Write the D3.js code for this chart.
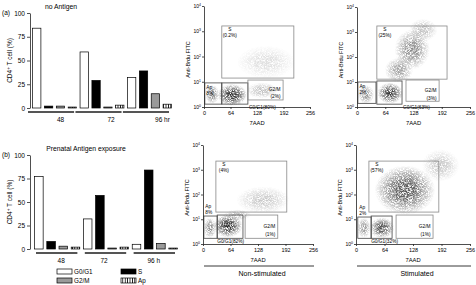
<!DOCTYPE html>
<html><head><meta charset="utf-8">
<script src="https://cdn.jsdelivr.net/npm/d3@7"></script>
<style>body{margin:0;background:#fff} svg{font-family:"Liberation Sans",Arial,sans-serif;display:block}</style>
</head><body><svg id="c" width="476" height="285"></svg>
<script>
// ---------- data ----------
const timepoints = ["48","72","96"];
const phases = ["G0/G1","S","G2/M","Ap"];
const yTicks = [0,25,50,75,100];
const noAgG0G1 = [84,59,32];
const noAgS    = [2,29,39];
const noAgG2M  = [2,1,15];
const noAgAp   = [1,3,4];
const preG0G1  = [77,32,5];
const preS     = [8,57,84];
const preG2M   = [3,1,6];
const preAp    = [2,2,1];
const groupLabelsA = ["48","72","96 hr"];
const groupLabelsB = ["48","72","96 h"];

const flowXTicks = [0,64,128,192,256];
const flowYTicks = [1,10,100,1000,10000];
const gateNames = ["S","Ap","G0/G1","G2/M"];
// gates: [7AAD from, 7AAD to, FITC from, FITC to]
const gatesA1 = [[43,217,14,1620],[2,43,1.3,9],[43,106,1.3,9],[106,191,1.9,11.7]];
const gatesA2 = [[45,204,13,1740],[2,43,1.4,10],[45,102,1.3,11],[111,186,1.7,12]];
const gatesB1 = [[30,195,19.5,2240],[2,33,1.7,13.5],[33,93,1.7,14.8],[98,174,1.7,14.8]];
const gatesB2 = [[29,186,19.5,2240],[4,34,1.7,12.3],[34,81,1.7,13.5],[90,173,1.7,14.8]];
const pctA1 = ["(0.2%)","8%","(80%)","(2%)"];
const pctA2 = ["(25%)","2%","(63%)","(3%)"];
const pctB1 = ["(4%)","8%","(82%)","(1%)"];
const pctB2 = ["(57%)","2%","(32%)","(1%)"];
// event clouds: [7AAD centre, FITC centre, 7AAD half-width, FITC half-height (decades), density]
const cloudsA1 = [[150,60,70,0.65,0.15],[140,4.5,38,0.32,0.3],[20,3.2,17,0.38,0.6],[68,3.0,36,0.44,1]];
const cloudsA2 = [[150,1200,32,0.45,0.3],[125,200,40,0.8,0.55],[95,30,32,0.5,0.45],[20,3.2,19,0.38,0.5],[75,3.6,29,0.42,0.95]];
const cloudsB1 = [[140,60,62,0.55,0.25],[80,15,32,0.22,0.3],[16,4.5,15,0.42,0.55],[58,5.4,34,0.47,1]];
const cloudsB2 = [[190,1500,42,0.65,0.25],[110,150,68,1.0,0.8],[18,4.5,15,0.42,0.5],[58,4.5,28,0.42,0.85]];

// ---------- setup ----------
const svg = d3.select("#c");
const defs = svg.append("defs");
const stripe = defs.append("pattern").attr("id","stripe").attr("patternUnits","userSpaceOnUse")
  .attr("width",2.4).attr("height",4);
stripe.append("rect").attr("width",2.4).attr("height",4).attr("fill","#fff");
stripe.append("rect").attr("width",0.8).attr("height",4).attr("fill","#000");
const grad = defs.append("radialGradient").attr("id","cloud");
grad.append("stop").attr("offset","0%").attr("stop-color","#222").attr("stop-opacity",1);
grad.append("stop").attr("offset","35%").attr("stop-color","#333").attr("stop-opacity",0.9);
grad.append("stop").attr("offset","70%").attr("stop-color","#555").attr("stop-opacity",0.5);
grad.append("stop").attr("offset","100%").attr("stop-color","#666").attr("stop-opacity",0);
const f = defs.append("filter").attr("id","speck").attr("x","-10%").attr("y","-10%").attr("width","120%").attr("height","120%");
f.append("feTurbulence").attr("type","fractalNoise").attr("baseFrequency",1.6).attr("numOctaves",2).attr("seed",7).attr("result","n");
f.append("feColorMatrix").attr("in","n").attr("type","matrix")
  .attr("values","0 0 0 0 0  0 0 0 0 0  0 0 0 0 0  3.2 0 0 0 -0.95").attr("result","m");
f.append("feComposite").attr("in","SourceGraphic").attr("in2","m").attr("operator","in");

const fills = {"G0/G1":"#fff","S":"#000","G2/M":"#9a9a9a","Ap":"url(#stripe)"};

function drawBars(c){
  const g = svg.append("g");
  const y = d3.scaleLinear([0,100],[c.bottom,c.top]);
  const x0 = d3.scaleBand(timepoints,c.range).paddingInner(0.05);
  const x1 = d3.scaleBand(phases,[0,x0.bandwidth()]).paddingInner(0.3).paddingOuter(0.05);
  const ax = g.append("g").attr("transform",`translate(${c.axisX},0)`)
    .call(d3.axisLeft(y).tickValues(yTicks).tickSize(3).tickSizeOuter(0).tickPadding(2));
  ax.selectAll("text").attr("font-size",6.5).attr("font-family","Liberation Sans, Arial");
  ax.selectAll("line,path").attr("stroke","#222").attr("stroke-width",0.8);
  phases.forEach((p,i)=>{
    g.selectAll(null).data(c.series[i]).enter().append("rect")
      .attr("x",(d,j)=>x0(timepoints[j])+x1(p)).attr("width",x1.bandwidth())
      .attr("y",d=>y(d)).attr("height",d=>y(0)-y(d))
      .attr("fill",fills[p]).attr("stroke","#000").attr("stroke-width",0.7);
  });
  g.selectAll(null).data(timepoints).enter().append("line")
    .attr("x1",d=>x0(d)+c.segOff[0]).attr("x2",d=>x0(d)+x0.bandwidth()+c.segOff[1])
    .attr("y1",c.lineY).attr("y2",c.lineY).attr("stroke","#555").attr("stroke-width",1.8);
  g.selectAll(null).data(timepoints).enter().append("text")
    .attr("x",(d,j)=>x0(d)+x0.bandwidth()/2+c.labOff[j]).attr("y",c.lineY+10)
    .attr("text-anchor","middle").attr("font-size",6.5).text((d,j)=>c.labels[j]);
  g.append("text").attr("x",c.titleX).attr("y",c.top-4).attr("text-anchor","middle")
    .attr("font-size",6.8).text(c.title);
  g.append("text").attr("x",2).attr("y",c.top+2).attr("font-size",6.5).text(c.letter);
  const yl = g.append("text").attr("transform",`translate(${c.axisX-18},${(c.top+c.bottom)/2}) rotate(-90)`)
    .attr("text-anchor","middle").attr("font-size",6.5);
  yl.append("tspan").text("CD4");
  yl.append("tspan").attr("dy",-2.5).attr("font-size",4.5).text("+");
  yl.append("tspan").attr("dy",2.5).text(" T cell (%)");
}

drawBars({top:13,bottom:108,axisX:30,range:[32,172],lineY:112,segOff:[-4,-3],labOff:[6,9,13],
  labels:groupLabelsA,title:"no Antigen",titleX:61,letter:"(a)",
  series:[noAgG0G1,noAgS,noAgG2M,noAgAp]});
drawBars({top:155,bottom:249,axisX:30,range:[34,178],lineY:253,segOff:[2,-3],labOff:[4,-2,-1],
  labels:groupLabelsB,title:"Prenatal Antigen exposure",titleX:86,letter:"(b)",
  series:[preG0G1,preS,preG2M,preAp]});

// legend
const leg = svg.append("g");
const legPos = {"G0/G1":[57,269],"G2/M":[57,278],"S":[121,269],"Ap":[121,278]};
phases.forEach(p=>{
  const [lx,ly]=legPos[p];
  leg.append("rect").attr("x",lx).attr("y",ly).attr("width",15).attr("height",5)
    .attr("fill",fills[p]).attr("stroke","#000").attr("stroke-width",0.7);
  leg.append("text").attr("x",lx+17).attr("y",ly+5).attr("font-size",6.3).text(p);
});

function drawFlow(c){
  const g = svg.append("g");
  const x = d3.scaleLinear([0,256],[c.x0,c.x1]);
  const y = d3.scaleLog([1,10000],[c.yb,c.yt]);
  const dec = (c.yb-c.yt)/4;
  const cl = g.append("g").attr("filter","url(#speck)");
  cl.selectAll("ellipse").data(c.clouds).enter().append("ellipse")
    .attr("cx",d=>x(d[0])).attr("cy",d=>y(d[1]))
    .attr("rx",d=>x(d[2])-x(0)).attr("ry",d=>d[3]*dec)
    .attr("fill","url(#cloud)").attr("opacity",d=>d[4]);
  g.selectAll("rect").data(c.gates).enter().append("rect")
    .attr("x",d=>x(d[0])).attr("width",d=>x(d[1])-x(d[0]))
    .attr("y",d=>y(d[3])).attr("height",d=>y(d[2])-y(d[3]))
    .attr("fill","none").attr("stroke",(d,i)=>i===1||i===2?"#444":"#888").attr("stroke-width",0.8);
  const fs = 4.8;
  const [gS,gAp,gG1,gG2] = c.gates;
  g.append("text").attr("x",x(gS[0])+8).attr("y",y(gS[3])+5).attr("text-anchor","middle").attr("font-size",fs).text(gateNames[0]);
  g.append("text").attr("x",x(gS[0])+8).attr("y",y(gS[3])+11).attr("text-anchor","middle").attr("font-size",fs).text(c.pct[0]);
  const apY = c.apInside ? y(gAp[3])+6 : y(gAp[3])-8;
  g.append("text").attr("x",x(gAp[0])+1.5).attr("y",apY).attr("font-size",fs).text(gateNames[1]);
  g.append("text").attr("x",x(gAp[0])+1.5).attr("y",apY+6).attr("font-size",fs).text(c.pct[1]);
  const gx = c.g1Right ? x(gG1[1])+1 : x(gG1[0]);
  g.append("text").attr("x",gx).attr("y",y(gG1[2])+4.5).attr("font-size",fs).text(gateNames[2]+c.pct[2]);
  const h2 = y(gG2[2])-y(gG2[3]);
  g.append("text").attr("x",x(gG2[1])-2.5).attr("y",y(gG2[3])+h2*0.56).attr("text-anchor","end").attr("font-size",fs).text(gateNames[3]);
  g.append("text").attr("x",x(gG2[1])-2.5).attr("y",y(gG2[3])+h2*0.92).attr("text-anchor","end").attr("font-size",fs).text(c.pct[3]);
  const xa = g.append("g").attr("transform",`translate(0,${c.yb})`)
    .call(d3.axisBottom(x).tickValues(flowXTicks).tickSize(2).tickSizeOuter(0).tickPadding(2));
  xa.selectAll("text").attr("font-size",5.5).attr("font-family","Liberation Sans, Arial");
  const ya = g.append("g").attr("transform",`translate(${c.x0},0)`)
    .call(d3.axisLeft(y).tickValues(flowYTicks).tickSize(2).tickSizeOuter(0).tickFormat(""));
  [xa,ya].forEach(a=>a.selectAll("line,path").attr("stroke","#222").attr("stroke-width",0.8));
  ya.selectAll(".tick").each(function(d){
    const t = d3.select(this).append("text").attr("x",-3).attr("dy","0.3em").attr("text-anchor","end")
      .attr("fill","#000").attr("font-size",5).attr("font-family","Liberation Sans, Arial");
    t.append("tspan").text("10");
    t.append("tspan").attr("dy",-2).attr("font-size",3.5).text(Math.round(Math.log10(d)));
  });
  g.append("text").attr("x",(c.x0+c.x1)/2).attr("y",c.yb+18).attr("text-anchor","middle").attr("font-size",5.8).text("7AAD");
  g.append("text").attr("transform",`translate(${c.x0-14},${(c.yb+c.yt)/2+3}) rotate(-90)`)
    .attr("text-anchor","middle").attr("font-size",5.5).text("Anti-Brdu FITC");
  if(c.caption){
    g.append("line").attr("x1",c.x0+1).attr("x2",c.x1+1).attr("y1",c.yb+22).attr("y2",c.yb+22).attr("stroke","#222").attr("stroke-width",0.9);
    g.append("text").attr("x",(c.x0+c.x1)/2+4).attr("y",c.yb+32).attr("text-anchor","middle").attr("font-size",7).text(c.caption);
  }
}

drawFlow({x0:204,x1:310,yb:107,yt:6,gates:gatesA1,pct:pctA1,clouds:cloudsA1,apInside:true,g1Right:true});
drawFlow({x0:357,x1:470,yb:107,yt:7,gates:gatesA2,pct:pctA2,clouds:cloudsA2,apInside:true,g1Right:true});
drawFlow({x0:203,x1:313,yb:244,yt:145,gates:gatesB1,pct:pctB1,clouds:cloudsB1,apInside:false,g1Right:false,caption:"Non-stimulated"});
drawFlow({x0:356,x1:470,yb:244,yt:145,gates:gatesB2,pct:pctB2,clouds:cloudsB2,apInside:false,g1Right:false,caption:"Stimulated"});
</script></body></html>
